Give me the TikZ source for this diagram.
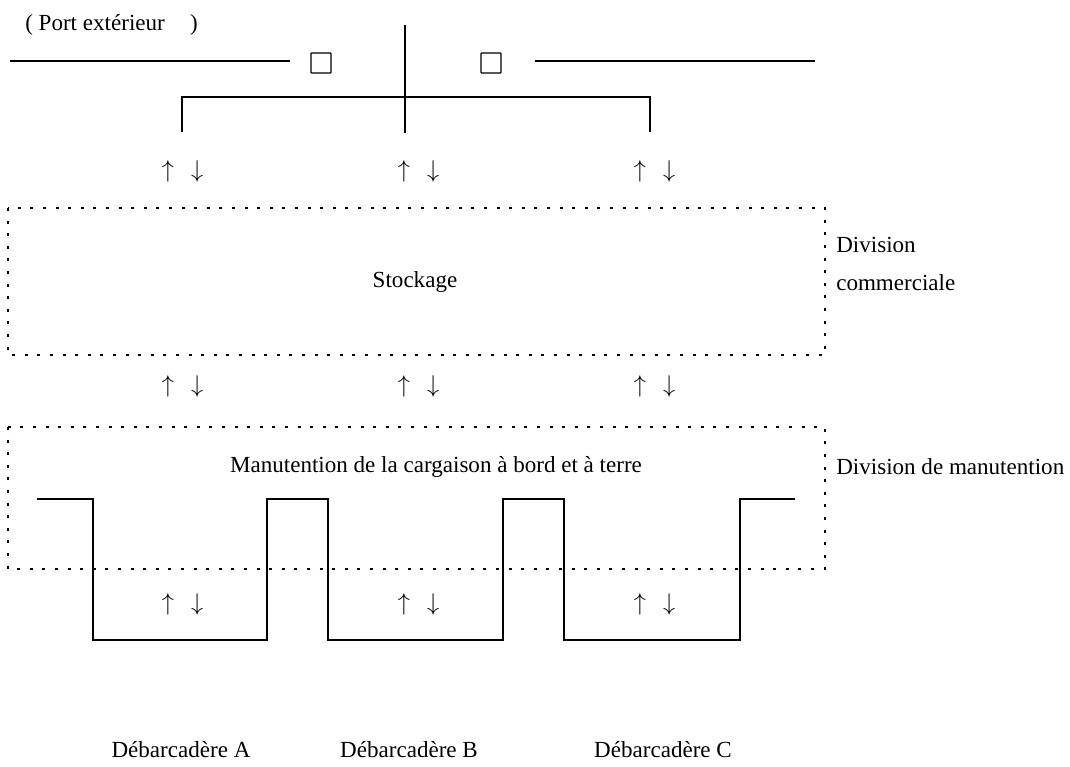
\documentclass[tikz,border=0pt]{standalone}
\usepackage{fontspec}
\setmainfont{Liberation Serif}
\usetikzlibrary{positioning}

\begin{document}
\begin{tikzpicture}[x=0.25mm,y=-0.25mm]
  \tikzset{
    label/.style={
      font=\fontsize{16.4}{19}\selectfont,
      inner sep=0pt
    },
    gate/.style={
      draw,
      line width=0.9pt,
      minimum size=5mm,
      inner sep=0pt,
      rounded corners=0.6pt
    },
    flux/.style={
      font=\fontsize{18}{20}\selectfont,
      inner sep=0pt
    },
    division/.style={
      line width=1.1pt,
      dash pattern=on 0.75mm off 2.4mm
    },
    quay/.style={
      line width=0.9pt
    }
  }
  \useasboundingbox (0,0) rectangle (1070,767);

  % Outer port and gates
  \node[label, anchor=west] at (25,25) (port) {( Port extérieur\hspace{1.1em})};
  \coordinate (lineL0) at (10,61);
  \coordinate (lineL1) at (290,61);
  \coordinate (lineR0) at (535,61);
  \coordinate (lineR1) at (815,61);
  \node[gate] at (321,63) (gateL) {};
  \node[gate] at (491,63) (gateR) {};
  \draw[quay] (lineL0) -- (lineL1);
  \draw[quay] (lineR0) -- (lineR1);

  % Main channel and branches
  \coordinate (chanTop) at (405,25);
  \coordinate (chanBot) at (405,133);
  \coordinate (brL) at (182,132);
  \coordinate (brR) at (650,132);
  \draw[quay] (chanTop) -- (chanBot);
  \draw[quay] (brL) |- (405,97) -| (brR);

  % Stockage
  \draw[division] (8,208) rectangle (825,355);
  \node[label] at (415,282) (stock) {Stockage};
  \node[label, anchor=west] at (836,245) (divA) {Division};
  \node[label, anchor=west] at (836,283) (divB) {commerciale};

  % Manutention
  \draw[division] (8,427) rectangle (825,569);
  \node[label] at (436,467) (manut) {Manutention de la cargaison à bord et à terre};
  \node[label, anchor=west] at (836,467) (divC) {Division de manutention};

  % Quays
  \draw[quay] (37,499) -- (93,499) -- (93,640) -- (267,640) -- (267,499)
    -- (328,499) -- (328,640) -- (503,640) -- (503,499)
    -- (564,499) -- (564,640) -- (740,640) -- (740,499) -- (795,499);

  % Up and down flows
  \foreach \row/\y in {1/171, 2/386, 3/604} {
    \foreach \col/\x in {1/168, 2/404, 3/640} {
      \node[flux] at (\x,\y) (up\row\col) {$\uparrow$};
      \node[flux, right=4.1mm of up\row\col] (dn\row\col) {$\downarrow$};
    }
  }

  % Quay names
  \node[label] at (181,750) (quayA) {Débarcadère A};
  \node[label] at (409,750) (quayB) {Débarcadère B};
  \node[label] at (663,750) (quayC) {Débarcadère C};

\end{tikzpicture}
\end{document}
